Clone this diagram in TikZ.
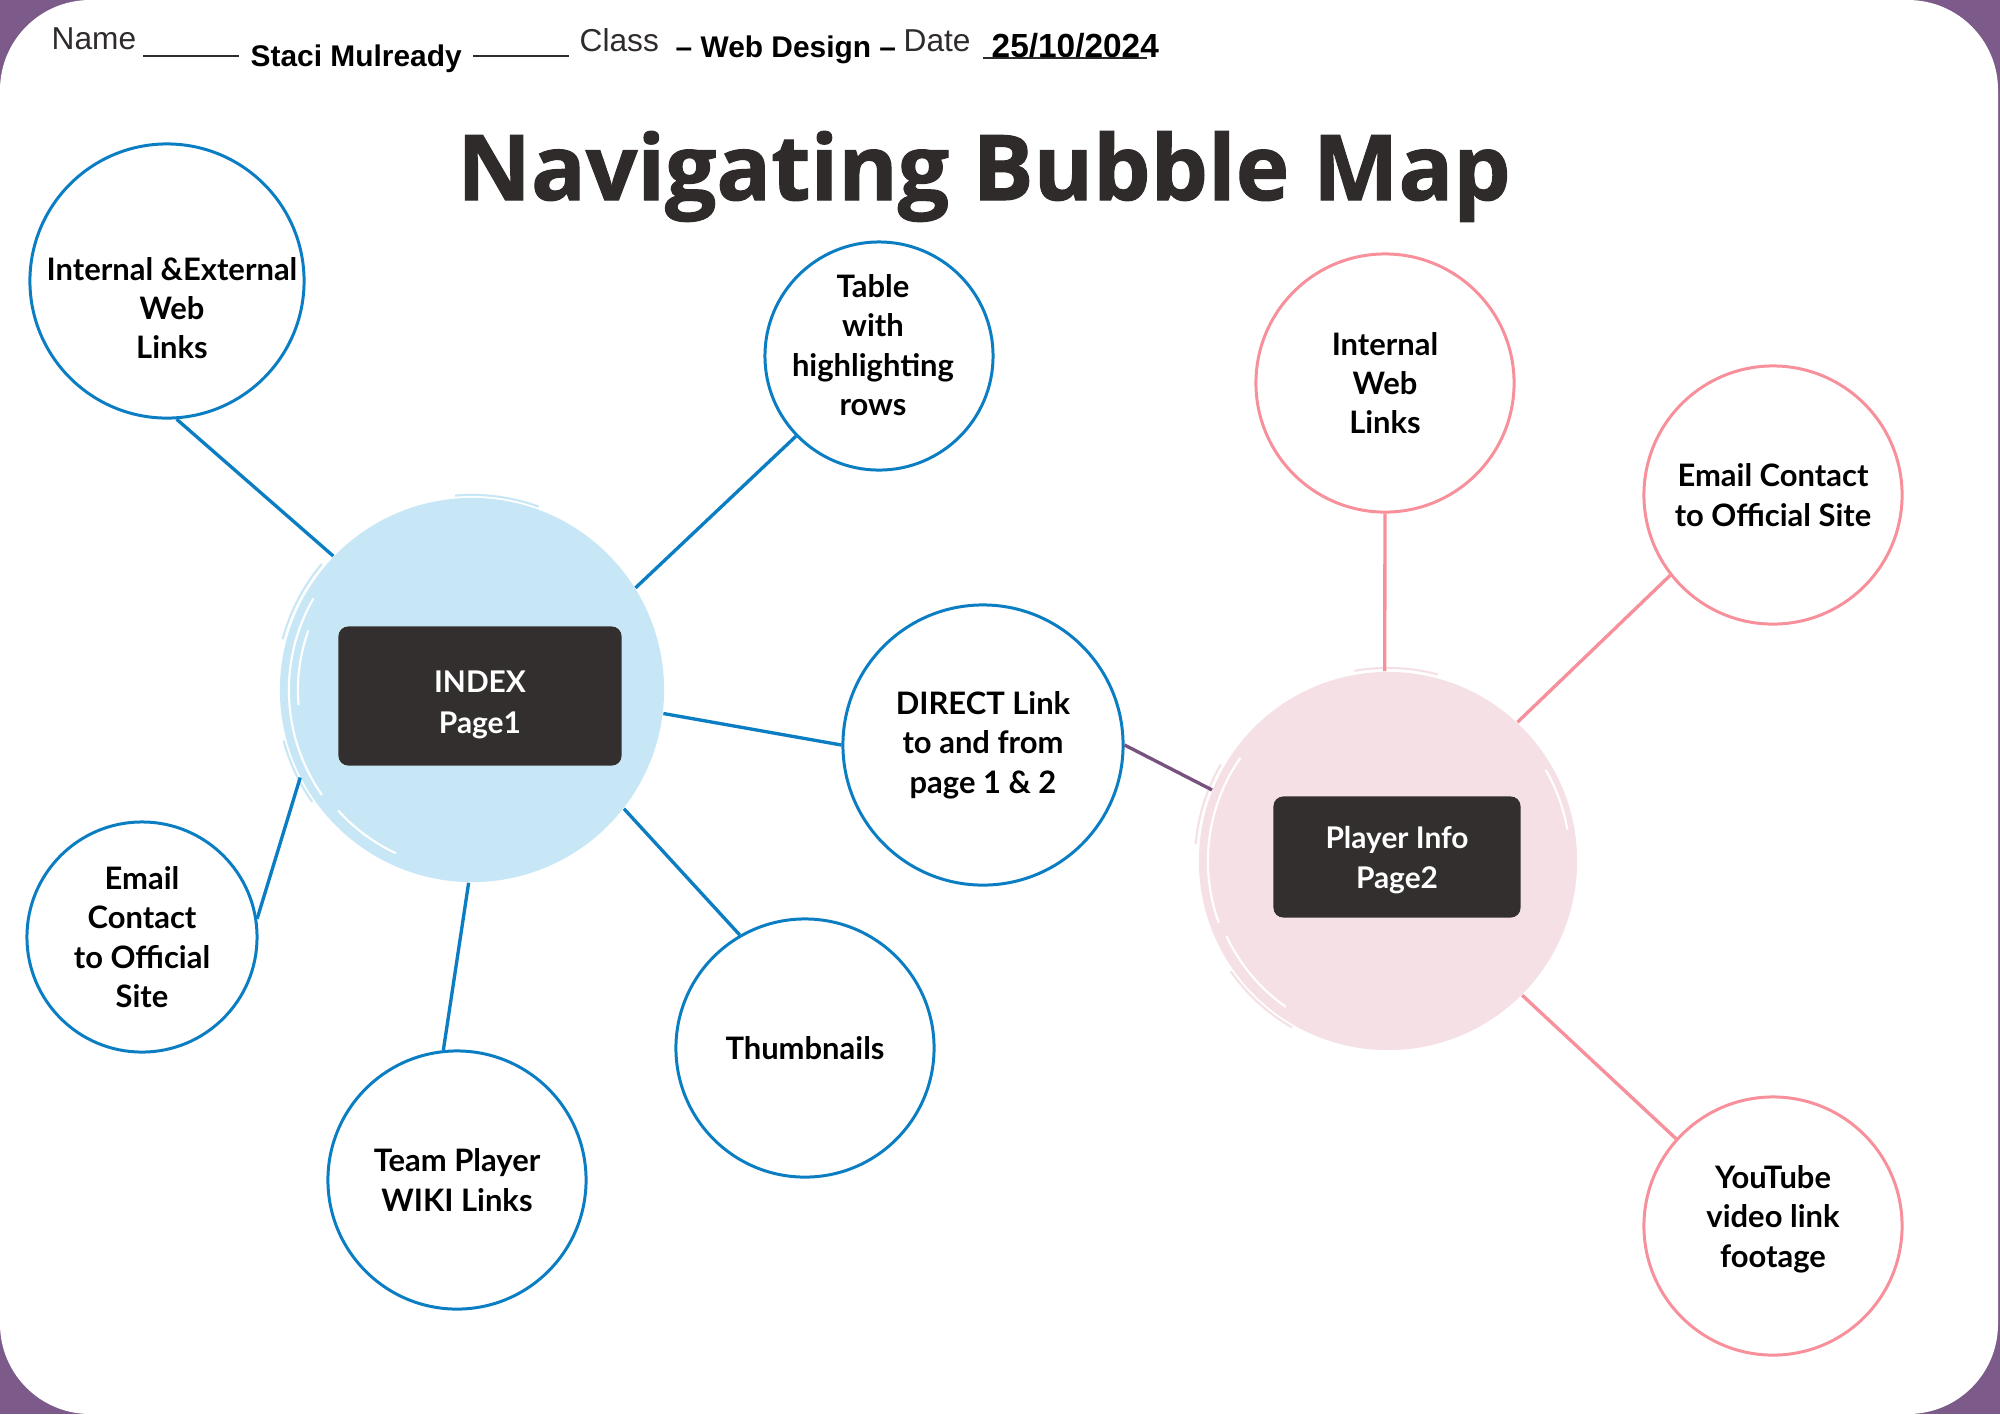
\documentclass[tikz,border=0pt]{standalone}
\usepackage{fontspec}
\setmainfont{Lato}
\newfontfamily\titlefont[BoldFeatures={FakeBold=1.2}]{Open Sans}
\newfontfamily\formfont{Liberation Sans}
\usetikzlibrary{positioning}

\definecolor{framepurple}{HTML}{7C5A89}
\definecolor{mapblue}{HTML}{0B7EC3}
\definecolor{hubblue}{HTML}{C8E7F6}
\definecolor{mappink}{HTML}{F8909B}
\definecolor{hubpink}{HTML}{F5E1E5}
\definecolor{boxdark}{HTML}{332F2E}
\definecolor{linkpurple}{HTML}{77527F}
\definecolor{inkdark}{HTML}{302B2B}

\tikzset{
  bubtext/.style={font=\fontsize{8.8}{11.2}\selectfont\bfseries, align=center},
  bluebub/.style={circle, draw=mapblue, line width=0.85pt, fill=white, inner sep=0pt, bubtext},
  pinkbub/.style={circle, draw=mappink, line width=0.85pt, fill=white, inner sep=0pt, bubtext},
  hub/.style={circle, inner sep=0pt},
  pagebox/.style={rectangle, rounded corners=2.8pt, fill=boxdark, inner sep=0pt},
  boxtext/.style={text=white, align=center, font=\fontsize{8.5}{11.6}\selectfont\bfseries},
  blueline/.style={draw=mapblue, line width=0.95pt},
  pinkline/.style={draw=mappink, line width=0.95pt},
  formtext/.style={font=\formfont\fontsize{9}{11}\selectfont, text=inkdark, inner sep=0pt},
  formbold/.style={font=\formfont\bfseries\fontsize{8.5}{11}\selectfont, text=black, inner sep=0pt},
  brush/.style={line width=0.6pt},
}

\begin{document}
\begin{tikzpicture}[x=0.01cm,y=-0.01cm]
  % frame
  \fill[framepurple] (0,0) rectangle (2000,1414);
  \fill[white, rounded corners=0.9cm] (0,0) rectangle (1998,1414);
  \useasboundingbox (0,0) rectangle (2000,1414);

  % form header
  \node[formtext, anchor=base west] (name) at (51,49) {Name};
  \draw[inkdark, line width=0.8pt] (143,56) -- (239,56);
  \node[formbold, anchor=base west] (student) at (250,66) {Staci Mulready};
  \draw[inkdark, line width=0.8pt] (473,56) -- (569,56);
  \node[formtext, anchor=base west] (class) at (579,51) {Class};
  \node[formbold, anchor=base west] (course) at (675,57) {– Web Design –};
  \node[formtext, anchor=base west] (date) at (903,51) {Date};
  \node[formbold, font=\formfont\bfseries\fontsize{9.5}{11}\selectfont, anchor=base west] (day)
    at (991,57) {25/10/2024};
  \draw[inkdark, line width=0.8pt] (983,58) -- (1147,58);

  % title
  \node[font=\titlefont\bfseries\fontsize{25.8}{30}\selectfont, text=inkdark, anchor=base] (title)
    at (984,200) {Navigating Bubble Map};

  % hubs
  \node[hub, fill=hubblue, minimum size=3.84cm] (idx) at (472,690) {};
  \begin{scope}[shift={(idx.center)}, x=1cm, y=1cm]
    \draw[white, brush] (150:1.83) arc[start angle=150, end angle=215, radius=1.83];
    \draw[white, brush] (160:1.74) arc[start angle=160, end angle=185, radius=1.74];
    \draw[white, brush] (222:1.80) arc[start angle=222, end angle=245, radius=1.80];
    \draw[hubblue, brush] (95:1.95) arc[start angle=95, end angle=70, radius=1.95];
    \draw[hubblue, brush] (140:1.96) arc[start angle=140, end angle=165, radius=1.96];
    \draw[hubblue, brush] (195:1.95) arc[start angle=195, end angle=215, radius=1.95];
  \end{scope}
  \node[pagebox, minimum width=2.83cm, minimum height=1.39cm,
    label={[boxtext, yshift=-0.09cm]center:{INDEX\\Page1}}] (idxbox) at (480,696) {};
  \node[hub, fill=hubpink, minimum size=3.78cm] (player) at (1388,861) {};
  \begin{scope}[shift={(player.center)}, x=1cm, y=1cm]
    \draw[white, brush] (145:1.80) arc[start angle=145, end angle=200, radius=1.80];
    \draw[white, brush] (205:1.78) arc[start angle=205, end angle=235, radius=1.78];
    \draw[white, brush] (30:1.82) arc[start angle=30, end angle=10, radius=1.82];
    \draw[hubpink, brush] (100:1.93) arc[start angle=100, end angle=75, radius=1.93];
    \draw[hubpink, brush] (150:1.93) arc[start angle=150, end angle=175, radius=1.93];
    \draw[hubpink, brush] (215:1.92) arc[start angle=215, end angle=240, radius=1.92];
  \end{scope}
  \node[pagebox, minimum width=2.47cm, minimum height=1.21cm,
    label={[boxtext, yshift=-0.03cm]center:{Player Info\\Page2}}] (playerbox) at (1397,857) {};

  % page 1 bubbles
  \node[bluebub, minimum size=2.74cm,
    label={[bubtext, xshift=0.05cm, yshift=-0.27cm]center:{Internal \&External\\Web\\Links}}] (links) at (167,281) {};
  \node[bluebub, minimum size=2.28cm,
    label={[bubtext, xshift=-0.06cm, yshift=0.11cm]center:{Table\\with\\highlighting\\rows}}] (table) at (879,356) {};
  \node[bluebub, minimum size=2.80cm] (direct) at (983,745) {DIRECT Link\\to and from\\page 1 \& 2};
  \node[bluebub, minimum size=2.30cm] (email) at (142,937) {Email\\Contact\\to Official\\Site};
  \node[bluebub, minimum size=2.58cm] (team) at (457,1180) {Team Player\\WIKI Links};
  \node[bluebub, minimum size=2.58cm] (thumbs) at (805,1048) {Thumbnails};

  % page 2 bubbles
  \node[pinkbub, minimum size=2.58cm] (weblinks) at (1385,383) {Internal\\Web\\Links};
  \node[pinkbub, minimum size=2.58cm] (contact) at (1773,495) {Email Contact\\to Official Site};
  \node[pinkbub, minimum size=2.58cm,
    label={[bubtext, yshift=0.07cm]center:{YouTube\\video link\\footage}}] (youtube) at (1773,1226) {};

  % connectors
  \draw[blueline] (links.-86) -- (idx.136);
  \draw[blueline] (table.-136) -- (idx.32);
  \draw[blueline] (idx.-7) -- (direct.180);
  \draw[blueline] (idx.-153) -- (email.9);
  \draw[blueline] (idx.-91) -- (team.96);
  \draw[blueline] (idx.-38) -- (thumbs.120);
  \draw[linkpurple, line width=0.95pt] (direct.0) -- (player.158);
  \draw[pinkline] (weblinks.-90) -- (player.91);
  \draw[pinkline] (contact.-142) -- (player.47);
  \draw[pinkline] (player.-45) -- (youtube.138);
\end{tikzpicture}
\end{document}
